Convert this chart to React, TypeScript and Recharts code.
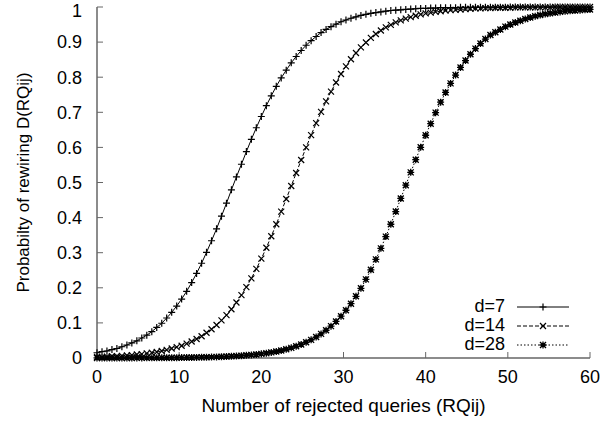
import React from 'react';
import { LineChart, Line, XAxis, YAxis, Legend } from 'recharts';

// x samples (100 samples over 0..60)
const xs = [
  0, 0.61, 1.21, 1.82, 2.42, 3.03, 3.64, 4.24, 4.85, 5.45,
  6.06, 6.67, 7.27, 7.88, 8.48, 9.09, 9.7, 10.3, 10.91, 11.52,
  12.12, 12.73, 13.33, 13.94, 14.55, 15.15, 15.76, 16.36, 16.97, 17.58,
  18.18, 18.79, 19.39, 20, 20.61, 21.21, 21.82, 22.42, 23.03, 23.64,
  24.24, 24.85, 25.45, 26.06, 26.67, 27.27, 27.88, 28.48, 29.09, 29.7,
  30.3, 30.91, 31.52, 32.12, 32.73, 33.33, 33.94, 34.55, 35.15, 35.76,
  36.36, 36.97, 37.58, 38.18, 38.79, 39.39, 40, 40.61, 41.21, 41.82,
  42.42, 43.03, 43.64, 44.24, 44.85, 45.45, 46.06, 46.67, 47.27, 47.88,
  48.48, 49.09, 49.7, 50.3, 50.91, 51.52, 52.12, 52.73, 53.33, 53.94,
  54.55, 55.15, 55.76, 56.36, 56.97, 57.58, 58.18, 58.79, 59.39, 60,
];

const d7 = [
  0.015, 0.018, 0.02, 0.024, 0.027, 0.032, 0.037, 0.043, 0.049, 0.057,
  0.065, 0.075, 0.087, 0.099, 0.114, 0.13, 0.148, 0.168, 0.19, 0.215,
  0.241, 0.27, 0.301, 0.334, 0.368, 0.404, 0.441, 0.479, 0.516, 0.552,
  0.588, 0.623, 0.656, 0.688, 0.719, 0.747, 0.774, 0.798, 0.82, 0.841,
  0.859, 0.876, 0.891, 0.904, 0.916, 0.927, 0.936, 0.944, 0.951, 0.958,
  0.963, 0.968, 0.972, 0.976, 0.979, 0.982, 0.984, 0.986, 0.988, 0.99,
  0.991, 0.992, 0.993, 0.994, 0.995, 0.996, 0.996, 0.997, 0.997, 0.998,
  0.998, 0.998, 0.998, 0.999, 0.999, 0.999, 0.999, 0.999, 0.999, 0.999,
  0.999, 0.999, 0.999, 1, 1, 1, 1, 1, 1, 1,
  1, 1, 1, 1, 1, 1, 1, 1, 1, 1,
];

const d14 = [
  0.003, 0.003, 0.004, 0.005, 0.005, 0.006, 0.007, 0.008, 0.01, 0.011,
  0.013, 0.015, 0.017, 0.02, 0.023, 0.027, 0.031, 0.035, 0.041, 0.047,
  0.054, 0.062, 0.072, 0.082, 0.094, 0.107, 0.122, 0.139, 0.158, 0.179,
  0.202, 0.227, 0.254, 0.283, 0.314, 0.347, 0.381, 0.417, 0.453, 0.49,
  0.527, 0.564, 0.6, 0.635, 0.669, 0.701, 0.731, 0.759, 0.785, 0.809,
  0.831, 0.851, 0.869, 0.885, 0.899, 0.912, 0.923, 0.933, 0.942, 0.949,
  0.956, 0.962, 0.967, 0.971, 0.975, 0.979, 0.982, 0.984, 0.986, 0.988,
  0.99, 0.991, 0.992, 0.993, 0.994, 0.995, 0.996, 0.996, 0.997, 0.997,
  0.998, 0.998, 0.998, 0.998, 0.999, 0.999, 0.999, 0.999, 0.999, 0.999,
  0.999, 0.999, 1, 1, 1, 1, 1, 1, 1, 1,
];

const d28 = [
  0.0001, 0.0001, 0.0001, 0.0001, 0.0001, 0.0002, 0.0002, 0.0002, 0.0003, 0.0003,
  0.0004, 0.0004, 0.0005, 0.0006, 0.0007, 0.0008, 0.0009, 0.0011, 0.0012, 0.0014,
  0.0017, 0.0019, 0.0023, 0.0026, 0.0031, 0.0036, 0.0041, 0.0048, 0.0056, 0.0065,
  0.0076, 0.0088, 0.0102, 0.0118, 0.0137, 0.016, 0.0185, 0.0215, 0.0249, 0.0289,
  0.0334, 0.0387, 0.0447, 0.0517, 0.0596, 0.0687, 0.0791, 0.0908, 0.1041, 0.1191,
  0.136, 0.1547, 0.1757, 0.1986, 0.2239, 0.2513, 0.2809, 0.3124, 0.3459, 0.381,
  0.4173, 0.4545, 0.4923, 0.5289, 0.5649, 0.6003, 0.6346, 0.6676, 0.699, 0.7288,
  0.7565, 0.7823, 0.8061, 0.8278, 0.8475, 0.8654, 0.8815, 0.8959, 0.9087, 0.92,
  0.928, 0.936, 0.944, 0.95, 0.956, 0.961, 0.966, 0.97, 0.974, 0.977,
  0.98, 0.982, 0.984, 0.986, 0.988, 0.989, 0.99, 0.991, 0.992, 0.993,
];

const xTicks = [0, 10, 20, 30, 40, 50, 60];
const yTicks = [0, 0.1, 0.2, 0.3, 0.4, 0.5, 0.6, 0.7, 0.8, 0.9, 1];

const seriesNames = ['d=7', 'd=14', 'd=28'];

const rows = xs.map((x, i) => ({ x, d7: d7[i], d14: d14[i], d28: d28[i] }));

const FONT = '"Liberation Sans", Arial, sans-serif';
const BORDER = '#666';

type MarkProps = { cx: number; cy: number; kind: string };

const Mark = ({ cx, cy, kind }: MarkProps) => {
  const s = 3.5;
  const plus = `M${cx - s},${cy}h${2 * s}M${cx},${cy - s}v${2 * s}`;
  const t = 3;
  const cross = `M${cx - t},${cy - t}l${2 * t},${2 * t}M${cx - t},${cy + t}l${2 * t},${-2 * t}`;
  if (kind === 'star') {
    return (
      <g>
        <rect x={cx - 2} y={cy - 2} width={4} height={4} fill="#000" />
        <path d={plus + cross} stroke="#000" strokeWidth={1.3} fill="none" />
      </g>
    );
  }
  return <path d={kind === 'x' ? cross : plus} stroke="#000" strokeWidth={1.2} fill="none" />;
};

const dotFor = (kind: string, id: string) => (p: any) => (
  <Mark key={`${id}-${p.index}`} cx={p.cx} cy={p.cy} kind={kind} />
);

const legendStyles = [
  { kind: 'plus', dash: undefined },
  { kind: 'x', dash: '4 2' },
  { kind: 'star', dash: '1.5 2' },
];

const renderLegend = () => (
  <div style={{ fontFamily: FONT, fontSize: 18, color: '#000' }}>
    {seriesNames.map((name, i) => (
      <div key={name} style={{ display: 'flex', alignItems: 'center', height: 19 }}>
        <span style={{ width: 60, textAlign: 'right', lineHeight: '19px' }}>{name}</span>
        <svg width={52} height={14} style={{ marginLeft: 12 }}>
          <line x1={0} y1={7} x2={52} y2={7} stroke="#000" strokeWidth={1} strokeDasharray={legendStyles[i].dash} />
          <Mark cx={26} cy={7} kind={legendStyles[i].kind} />
        </svg>
      </div>
    ))}
  </div>
);

const tickStyle = { fontSize: 18, fill: '#000', fontFamily: FONT };

const App: React.FC = () => {
  return (
    <div style={{ position: 'absolute', left: 0, top: 0, width: 604, height: 423, background: '#fff', fontFamily: FONT }}>
      <LineChart width={604} height={423} data={rows} margin={{ top: 7, right: 14, bottom: 0, left: 0 }}>
        <XAxis
          xAxisId="bottom"
          dataKey="x"
          type="number"
          domain={[0, 60]}
          ticks={xTicks}
          height={65}
          tickSize={-6}
          tickMargin={18}
          tick={tickStyle}
          axisLine={{ stroke: BORDER, strokeWidth: 1.5 }}
          tickLine={{ stroke: BORDER }}
          label={{ value: 'Number of rejected queries (RQij)', position: 'insideBottom', offset: 11, style: { fontSize: 19, fill: '#000', fontFamily: FONT } }}
        />
        <XAxis
          xAxisId="top"
          orientation="top"
          dataKey="x"
          type="number"
          domain={[0, 60]}
          ticks={xTicks}
          height={0}
          tickSize={-6}
          tickFormatter={() => ''}
          axisLine={{ stroke: BORDER, strokeWidth: 1.5 }}
          tickLine={{ stroke: BORDER }}
        />
        <YAxis
          yAxisId="left"
          type="number"
          domain={[0, 1]}
          ticks={yTicks}
          width={97}
          tickSize={-6}
          tickMargin={21}
          tick={tickStyle}
          axisLine={{ stroke: BORDER, strokeWidth: 1.5 }}
          tickLine={{ stroke: BORDER }}
          label={{ value: 'Probabilty of rewiring D(RQij)', angle: -90, position: 'insideLeft', offset: 23, style: { textAnchor: 'middle', fontSize: 17, fill: '#000', fontFamily: FONT } }}
        />
        <YAxis
          yAxisId="right"
          orientation="right"
          type="number"
          domain={[0, 1]}
          ticks={yTicks}
          width={0}
          tickSize={-6}
          tickFormatter={() => ''}
          axisLine={{ stroke: BORDER, strokeWidth: 1.5 }}
          tickLine={{ stroke: BORDER }}
        />
        <Legend
          content={renderLegend}
          layout="vertical"
          align="center"
          verticalAlign="middle"
          wrapperStyle={{ position: 'absolute', left: 445, top: 297, width: 140 }}
        />
        <Line
          xAxisId="bottom"
          yAxisId="left"
          type="linear"
          dataKey="d7"
          name={seriesNames[0]}
          stroke="#000"
          strokeWidth={1}
          dot={dotFor('plus', 'd7')}
          isAnimationActive={false}
        />
        <Line
          xAxisId="bottom"
          yAxisId="left"
          type="linear"
          dataKey="d14"
          name={seriesNames[1]}
          stroke="#000"
          strokeWidth={1}
          strokeDasharray="4 2"
          dot={dotFor('x', 'd14')}
          isAnimationActive={false}
        />
        <Line
          xAxisId="bottom"
          yAxisId="left"
          type="linear"
          dataKey="d28"
          name={seriesNames[2]}
          stroke="#000"
          strokeWidth={1}
          strokeDasharray="1.5 2"
          dot={dotFor('star', 'd28')}
          isAnimationActive={false}
        />
      </LineChart>
    </div>
  );
};

export default App;
